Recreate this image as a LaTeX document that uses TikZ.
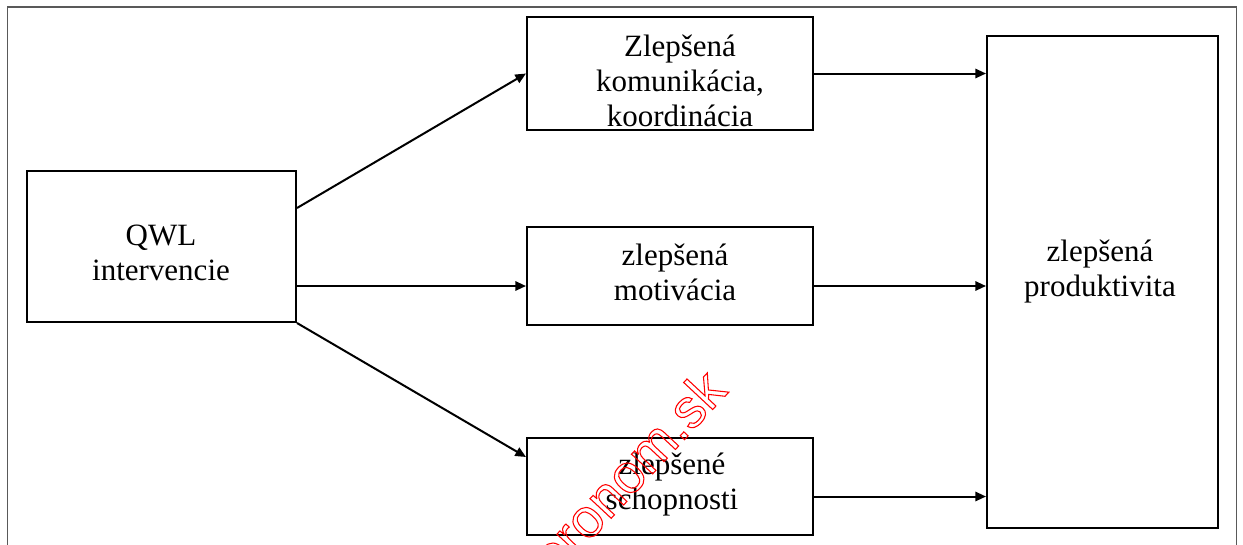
\documentclass[tikz,border=0pt]{standalone}
\usepackage{fontspec}
\setmainfont{Liberation Serif}
\newfontfamily\wmfont{Liberation Sans}
\usetikzlibrary{arrows.meta}
\tikzset{
  box/.style={draw=black, line width=1.5pt, inner sep=0pt},
  txt/.style={align=center, inner sep=0pt, font=\fontsize{23.25}{26.25}\selectfont},
  arr/.style={line width=1.5pt, -{Triangle[length=8pt,width=7pt]}},
  frame/.style={draw=black!65, line width=0.9pt},
}
\begin{document}
\begin{tikzpicture}[x=0.75pt,y=-0.75pt]
\useasboundingbox (0,0) rectangle (1243,544);
\clip (0,0) rectangle (1243,544);
\draw[frame] (7.5,600) -- (7.5,7) -- (1236.5,7) -- (1236.5,600);
% boxes
\node[box, minimum width=269*0.75pt, minimum height=151*0.75pt] (qwl) at (161.5,246.5) {};
\node[box, minimum width=286*0.75pt, minimum height=113*0.75pt] (kom) at (670,73.5) {};
\node[box, minimum width=286*0.75pt, minimum height=98*0.75pt] (mot) at (670,276) {};
\node[box, minimum width=286*0.75pt, minimum height=97*0.75pt] (sch) at (670,486.5) {};
\node[box, minimum width=231*0.75pt, minimum height=492*0.75pt] (prod) at (1102.5,282) {};
% texts
\node[txt] (tqwl) at (161,253) {QWL\\intervencie};
\node[txt] (tkom) at (680,81) {Zlepšená\\komunikácia,\\koordinácia};
\node[txt] (tmot) at (675,272) {zlepšená\\motivácia};
\node[txt] (tsch) at (672,485) {zlepšené\\schopnosti};
\node[txt] (tprod) at (1100,271.5) {zlepšená\\produktivita};
% connectors
\coordinate (m1) at ([yshift=27.75pt]qwl.south east);
\draw[arr] ([yshift=-28.5pt]qwl.north east) -- (kom.west);
\draw[arr] (m1) -- (m1 -| mot.west);
\draw[arr] (qwl.south east) -- ([yshift=-15pt]sch.north west);
\draw[arr] (kom.east) -- (kom.east -| prod.west);
\draw[arr] (m1 -| mot.east) -- (m1 -| prod.west);
\coordinate (b1) at ([yshift=-7.5pt]sch.east);
\draw[arr] (b1) -- (b1 -| prod.west);
% watermark
\node[anchor=base east, rotate=47, inner sep=0pt, text=red, font=\wmfont\fontsize{41}{41}\selectfont] (wm) at (729,392)
  {\special{pdf:literal direct 0.8 w 1 Tr}oronom.sk\special{pdf:literal direct 0 Tr}};
\end{tikzpicture}
\end{document}
